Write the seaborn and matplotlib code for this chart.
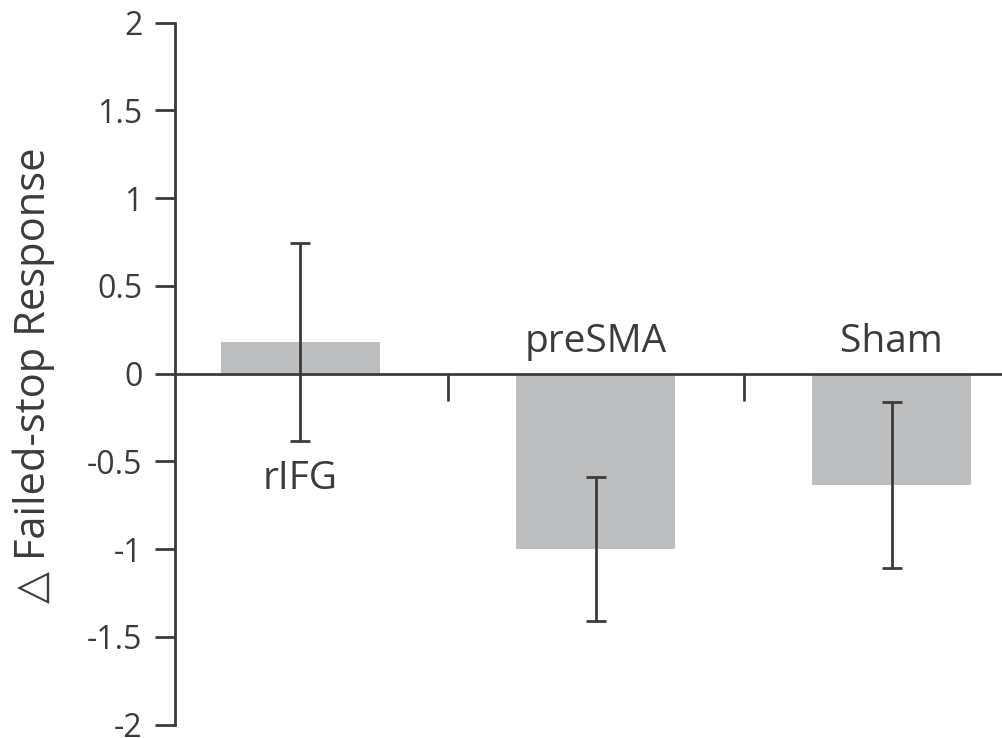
import matplotlib
matplotlib.use("Agg")
import matplotlib.pyplot as plt
import seaborn as sns
import pandas as pd
import numpy as np

categories = ["rIFG", "preSMA", "Sham"]
means = [0.18, -1.00, -0.635]
errors = [0.565, 0.41, 0.473]
label_y = [-0.6, 0.18, 0.18]
yticks = [2, 1.5, 1, 0.5, 0, -0.5, -1, -1.5, -2]
ytick_labels = ["2", "1.5", "1", "0.5", "0", "-0.5", "-1", "-1.5", "-2"]

sns.set_style("white")
plt.rcParams['font.family'] = ['Open Sans', 'DejaVu Sans']

ink = "#3b3b3b"
bar_color = "#bdbec0"

fig = plt.figure(figsize=(10.03, 7.38), dpi=100)
ax = fig.add_axes([175 / 1003, 13.3 / 738, 1 - 175 / 1003, 702 / 738])

df = pd.DataFrame({"cat": categories, "val": means})
sns.barplot(data=df, x="cat", y="val", order=categories, color=bar_color,
            saturation=1, width=0.538, errorbar=None, ax=ax, zorder=1)
for p in ax.patches:
    p.set_edgecolor("none")

xpos = np.arange(len(categories))
ax.errorbar(xpos, means, yerr=errors, fmt="none", ecolor=ink, elinewidth=2.0,
            capsize=7.5, capthick=2.0, zorder=3)

ax.set_xlim(-0.423, 2.377)
ax.set_ylim(-2, 2)
ax.set_yticks(yticks)
ax.set_yticklabels(ytick_labels, fontsize=23, color=ink)
ax.set_xticks([0.5, 1.5])
ax.set_xticklabels([])
ax.set_xlabel("")
ax.set_ylabel("△ Failed-stop Response", fontsize=30, color=ink)
ax.yaxis.set_label_coords(-0.145, 0.498)

for s in ["top", "right"]:
    ax.spines[s].set_visible(False)
ax.spines["left"].set_color(ink)
ax.spines["left"].set_linewidth(2.0)
ax.spines["bottom"].set_color(ink)
ax.spines["bottom"].set_linewidth(2.0)
ax.spines["bottom"].set_position(("data", 0))
ax.spines["bottom"].set_zorder(2)

ax.tick_params(axis="y", direction="out", length=14.4, width=2.0, color=ink, pad=9, left=True)
ax.tick_params(axis="x", direction="out", length=19.5, width=2.0, color=ink, bottom=True)

for i, c in enumerate(categories):
    ax.text(i, label_y[i], c, ha="center", va="center", fontsize=28, color=ink)

fig.savefig("out.png", dpi=100)
